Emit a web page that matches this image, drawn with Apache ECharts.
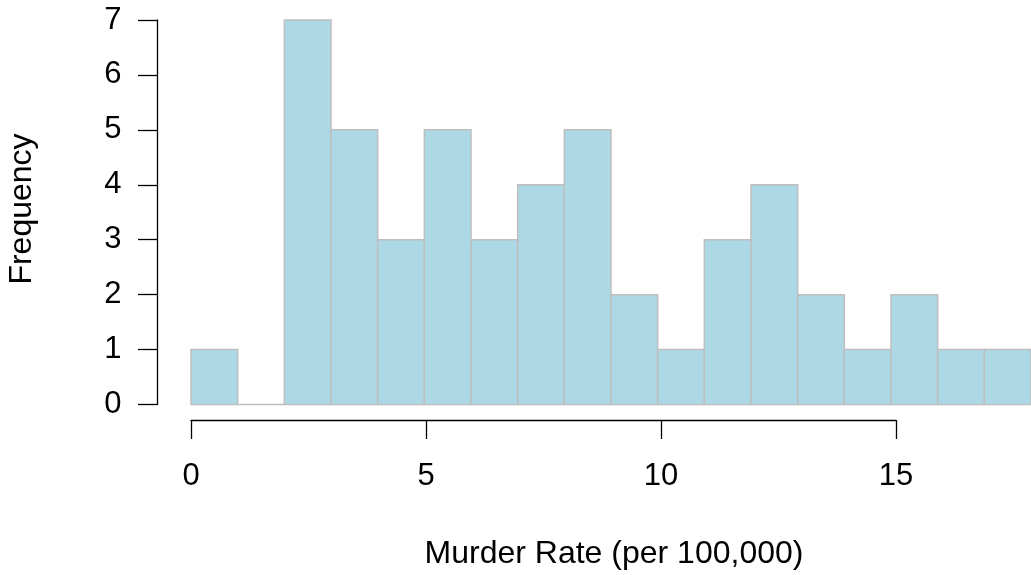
<!DOCTYPE html>
<html>
<head>
<meta charset="utf-8">
<title>Murder Rate histogram</title>
<script src="https://cdn.jsdelivr.net/npm/echarts@6/dist/echarts.min.js"></script>
<style>
  html, body { margin: 0; padding: 0; background: #ffffff; }
  #chart { width: 1031px; height: 575px; }
</style>
</head>
<body>
<div id="chart"></div>
<script>
// Histogram bins (unit width) and their counts
const binEdges = [0, 1, 2, 3, 4, 5, 6, 7, 8, 9, 10, 11, 12, 13, 14, 15, 16, 17, 18];
const counts = [1, 0, 7, 5, 3, 5, 3, 4, 5, 2, 1, 3, 4, 2, 1, 2, 1, 1];
const xTicks = [0, 5, 10, 15];
const yTicks = [0, 1, 2, 3, 4, 5, 6, 7];
const xTitle = 'Murder Rate (per 100,000)';
const yTitle = 'Frequency';

const FONT = "'Liberation Sans', Arial, Helvetica, sans-serif";
const FS = 31;       // tick labels
const FS_TITLE = 32; // axis titles

const bins = counts.map((c, i) => [binEdges[i], binEdges[i + 1], c]);

const chart = echarts.init(document.getElementById('chart'), null, { renderer: 'canvas' });

const gridTop = 20, gridBottom = 170.5, gridLeft = 191, unitPx = 47;

chart.setOption({
  animation: false,
  backgroundColor: '#ffffff',
  grid: [
    // plotting area for the bars (extends past the right edge)
    { left: gridLeft, right: -6, top: gridTop, bottom: gridBottom },
    // area whose bottom axis spans only the labelled range
    { left: gridLeft, width: unitPx * (xTicks[xTicks.length - 1] - xTicks[0]), top: gridTop, bottom: gridBottom }
  ],
  xAxis: [
    {
      gridIndex: 0, type: 'value',
      min: binEdges[0], max: binEdges[binEdges.length - 1],
      axisLine: { show: false }, axisTick: { show: false },
      axisLabel: { show: false }, splitLine: { show: false }
    },
    {
      gridIndex: 1, type: 'value',
      min: xTicks[0], max: xTicks[xTicks.length - 1], interval: xTicks[1] - xTicks[0],
      position: 'bottom', offset: 15.5,
      axisLine: { show: true, onZero: false, lineStyle: { color: '#000', width: 1.3 } },
      axisTick: { show: true, length: 19, lineStyle: { color: '#000', width: 1.3 } },
      axisLabel: { show: true, margin: 41, color: '#000', fontSize: FS, fontFamily: FONT },
      splitLine: { show: false }
    }
  ],
  yAxis: [
    {
      gridIndex: 0, type: 'value',
      min: yTicks[0], max: yTicks[yTicks.length - 1], interval: 1,
      position: 'left', offset: 33.5,
      axisLine: { show: true, onZero: false, lineStyle: { color: '#000', width: 1.3 } },
      axisTick: { show: true, length: 19.5, lineStyle: { color: '#000', width: 1.3 } },
      axisLabel: { show: true, margin: 36, color: '#000', fontSize: FS, fontFamily: FONT },
      splitLine: { show: false }
    },
    {
      gridIndex: 1, type: 'value', min: 0, max: 7, show: false
    }
  ],
  graphic: [
    {
      type: 'text', x: 614, y: 554,
      style: { text: xTitle, fontSize: FS_TITLE, fontFamily: FONT, fill: '#000', align: 'center', verticalAlign: 'middle' }
    },
    {
      type: 'text', rotation: Math.PI / 2, x: 22, y: 209,
      style: { text: yTitle, fontSize: FS_TITLE, fontFamily: FONT, fill: '#000', align: 'center', verticalAlign: 'middle' }
    }
  ],
  series: [
    {
      type: 'custom',
      xAxisIndex: 0, yAxisIndex: 0,
      data: bins,
      encode: { x: [0, 1], y: 2 },
      renderItem: function (params, api) {
        const lo = api.value(0), hi = api.value(1), c = api.value(2);
        const p0 = api.coord([lo, c]);
        const p1 = api.coord([hi, 0]);
        return {
          type: 'rect',
          shape: { x: p0[0], y: p0[1], width: p1[0] - p0[0], height: p1[1] - p0[1] },
          style: { fill: '#add8e6', stroke: '#bebebe', lineWidth: 1.5 }
        };
      }
    }
  ]
});
</script>
</body>
</html>
